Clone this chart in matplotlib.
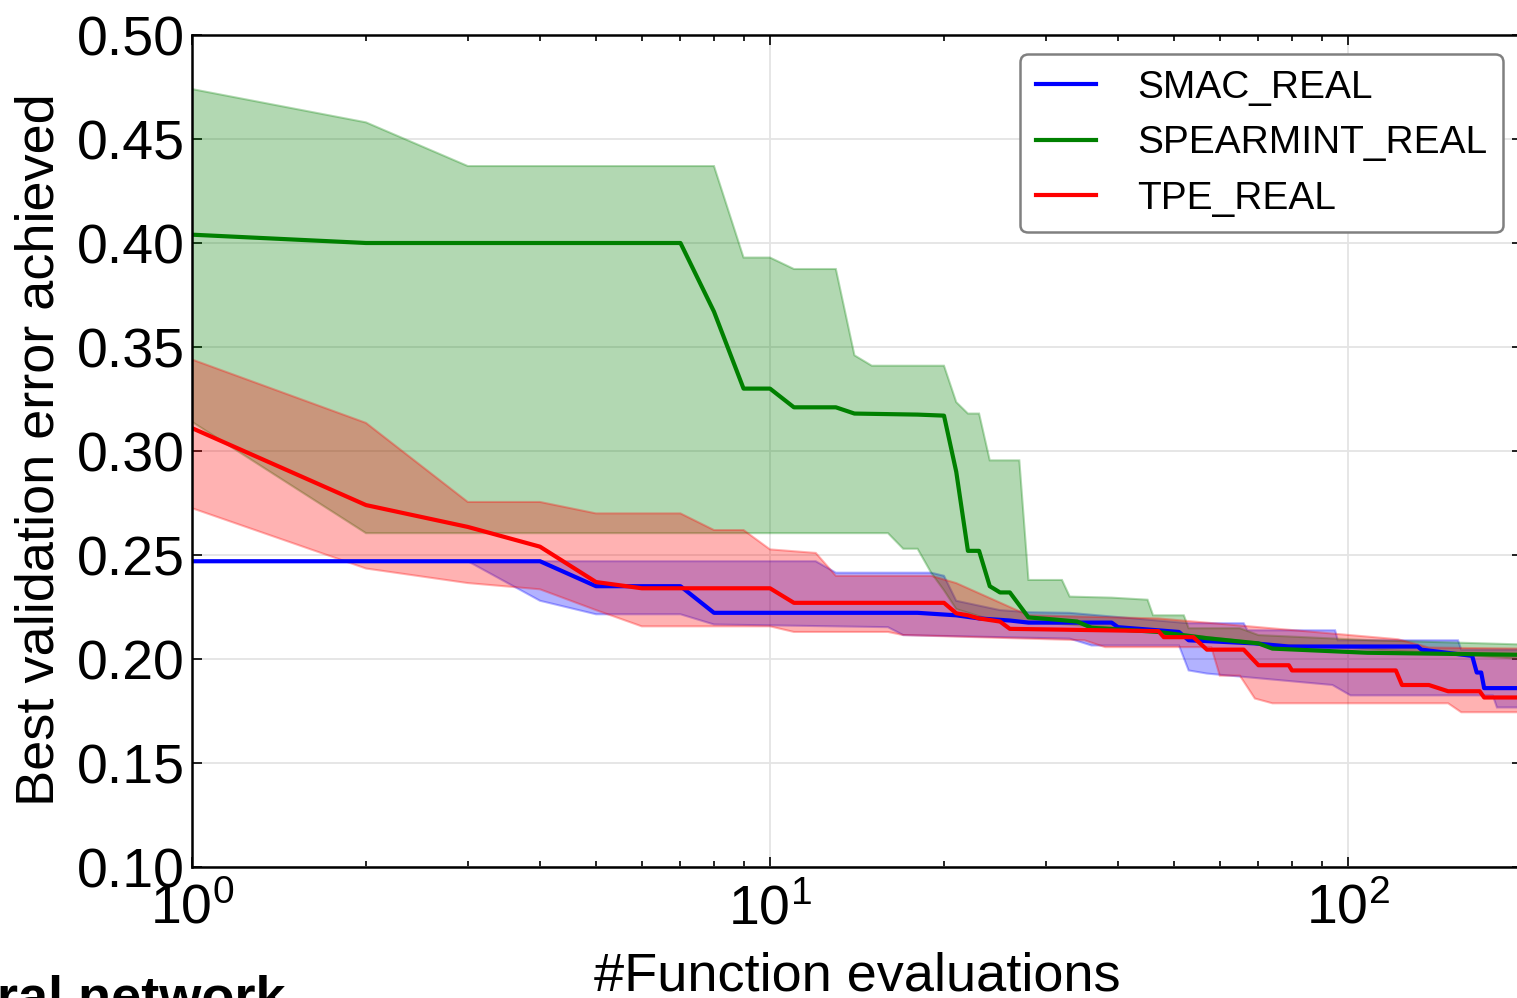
import numpy as np
import matplotlib
matplotlib.use("Agg")
import matplotlib.pyplot as plt

plt.rcParams['font.family'] = ['Liberation Sans', 'DejaVu Sans']
plt.rcParams['mathtext.default'] = 'regular'

# SMAC: mean curve and band edges (evaluations, best error)
smac_x = [1, 4, 5, 7, 8, 18, 21, 23, 26, 28, 39, 40, 51, 53, 69, 79, 132, 134, 164, 167, 170, 172, 200]
smac_mean = [0.247, 0.247, 0.235, 0.235, 0.2222, 0.2222, 0.221, 0.2195, 0.2185, 0.2175, 0.2175, 0.2153,
             0.213, 0.209, 0.2075, 0.206, 0.206, 0.2045, 0.2015, 0.1935, 0.1935, 0.186, 0.186]
smac_hi_x = [1, 12, 13, 19, 20, 21, 25, 28, 33, 53, 66, 67, 95, 96, 155, 157, 200]
smac_hi = [0.247, 0.247, 0.2415, 0.2415, 0.240, 0.228, 0.2235, 0.2225, 0.2222, 0.2172, 0.2172, 0.2138,
           0.2138, 0.209, 0.209, 0.2045, 0.2045]
smac_lo_x = [1, 3, 4, 5, 7, 8, 16, 17, 33, 36, 51, 53, 57, 94, 101, 178, 181, 200]
smac_lo = [0.247, 0.247, 0.228, 0.2215, 0.2215, 0.2166, 0.2153, 0.2115, 0.2098, 0.2065, 0.2065, 0.1945,
           0.193, 0.1875, 0.1825, 0.1825, 0.1767, 0.1767]

# Spearmint
spear_x = [1, 2, 7, 8, 9, 10, 11, 13, 14, 18, 20, 21, 22, 23, 24, 25, 26, 28, 31, 34, 36, 47, 57, 70, 74, 108, 200]
spear_mean = [0.404, 0.400, 0.400, 0.367, 0.330, 0.330, 0.321, 0.321, 0.318, 0.3175, 0.317, 0.290, 0.252,
              0.252, 0.235, 0.232, 0.232, 0.220, 0.219, 0.218, 0.215, 0.213, 0.210, 0.2075, 0.205, 0.203, 0.202]
spear_hi_x = [1, 2, 3, 8, 9, 10, 11, 13, 14, 15, 20, 21, 22, 23, 24, 27, 28, 32, 33, 39, 45, 46, 52, 53,
              65, 70, 110, 200]
spear_hi = [0.474, 0.458, 0.437, 0.437, 0.393, 0.393, 0.3875, 0.3875, 0.346, 0.341, 0.341, 0.3235, 0.318,
            0.318, 0.2955, 0.2955, 0.238, 0.238, 0.230, 0.2295, 0.2285, 0.221, 0.221, 0.2148, 0.2148,
            0.2115, 0.209, 0.207]
spear_lo_x = [1, 2, 16, 17, 18, 19, 20, 21, 24, 33, 47, 57, 75, 130, 200]
spear_lo = [0.314, 0.2605, 0.2605, 0.253, 0.253, 0.2415, 0.233, 0.224, 0.219, 0.2165, 0.2135, 0.2105,
            0.207, 0.2035, 0.200]

# TPE
tpe_x = [1, 2, 3, 4, 5, 6, 10, 11, 20, 21, 22, 23, 25, 26, 47, 48, 54, 57, 66, 70, 79, 80, 121, 124,
         138, 149, 169, 172, 200]
tpe_mean = [0.311, 0.274, 0.2635, 0.254, 0.237, 0.234, 0.234, 0.227, 0.227, 0.222, 0.221, 0.2195, 0.218,
            0.2145, 0.2134, 0.2105, 0.2105, 0.2045, 0.2045, 0.197, 0.197, 0.1945, 0.1945, 0.1875, 0.1875,
            0.1845, 0.1845, 0.1815, 0.1815]
tpe_hi_x = [1, 2, 3, 4, 5, 7, 8, 9, 10, 12, 13, 19, 21, 26, 28, 47, 122, 138, 200]
tpe_hi = [0.344, 0.3135, 0.2755, 0.2755, 0.270, 0.270, 0.262, 0.262, 0.2527, 0.251, 0.240, 0.240, 0.2365,
          0.225, 0.221, 0.2195, 0.2095, 0.2055, 0.205]
tpe_lo_x = [1, 2, 3, 4, 5, 6, 10, 11, 16, 17, 35, 38, 58, 60, 65, 69, 74, 149, 157, 200]
tpe_lo = [0.2725, 0.2435, 0.2365, 0.2335, 0.2235, 0.2157, 0.2157, 0.213, 0.213, 0.2115, 0.209, 0.2057,
          0.2057, 0.192, 0.192, 0.181, 0.1787, 0.1787, 0.1744, 0.1744]

runs = [
    ("SMAC_REAL", "blue", smac_x, smac_mean, smac_hi_x, smac_hi, smac_lo_x, smac_lo),
    ("SPEARMINT_REAL", "green", spear_x, spear_mean, spear_hi_x, spear_hi, spear_lo_x, spear_lo),
    ("TPE_REAL", "red", tpe_x, tpe_mean, tpe_hi_x, tpe_hi, tpe_lo_x, tpe_lo),
]

fig = plt.figure(figsize=(15.17, 9.98), dpi=100)
# right edge of the axes sits just past the figure border
ax = fig.add_axes([192 / 1517, 131 / 998, 1330 / 1517, 832 / 998])

for name, c, x, m, hx, hy, lx, ly in runs:
    px = np.r_[hx, lx[::-1]]
    py = np.r_[hy, ly[::-1]]
    ax.fill(px, py, color=c, alpha=0.3, lw=1.5)

for name, c, x, m, hx, hy, lx, ly in runs:
    ax.plot(x, m, color=c, lw=3, label=name)

ax.set_xscale('log')
ax.set_xlim(1, 200)
ax.set_ylim(0.10, 0.50)
ax.set_yticks(np.arange(0.10, 0.501, 0.05))
ax.set_yticklabels(["%.2f" % v for v in np.arange(0.10, 0.501, 0.05)])
ax.set_xticks([1, 10, 100])
ax.set_xticklabels([r'$10^{0}$', r'$10^{1}$', r'$10^{2}$'])

ax.grid(True, which='major', color='#e4e4e4', lw=1.3)
ax.set_axisbelow(True)
ax.tick_params(which='both', direction='in', top=True, right=True, width=1.2)
ax.tick_params(which='major', length=7, labelsize=40)
ax.tick_params(which='minor', length=4)
ax.tick_params(axis='y', pad=5)
ax.tick_params(axis='x', pad=12)
for s in ax.spines.values():
    s.set_linewidth(1.8)

ax.set_ylabel("Best validation error achieved", fontsize=39)
ax.yaxis.set_label_coords(-0.0955, 0.502)
ax.set_xlabel("#Function evaluations", fontsize=39)
ax.xaxis.label.set_va('baseline')
ax.xaxis.set_label_coords(0.5, -0.149)

leg = ax.legend(loc='upper right', fontsize=28, handlelength=1.55, handletextpad=1.05,
                labelspacing=0.5, borderpad=0.4, fancybox=True, framealpha=1)
leg.get_frame().set_edgecolor('#808080')
leg.get_frame().set_linewidth(1.8)

fig.text(-0.002, 1 - 1014 / 998, "ral network", fontsize=39, fontweight='bold',
         ha='left', va='baseline')

fig.savefig("out.png", dpi=100)
